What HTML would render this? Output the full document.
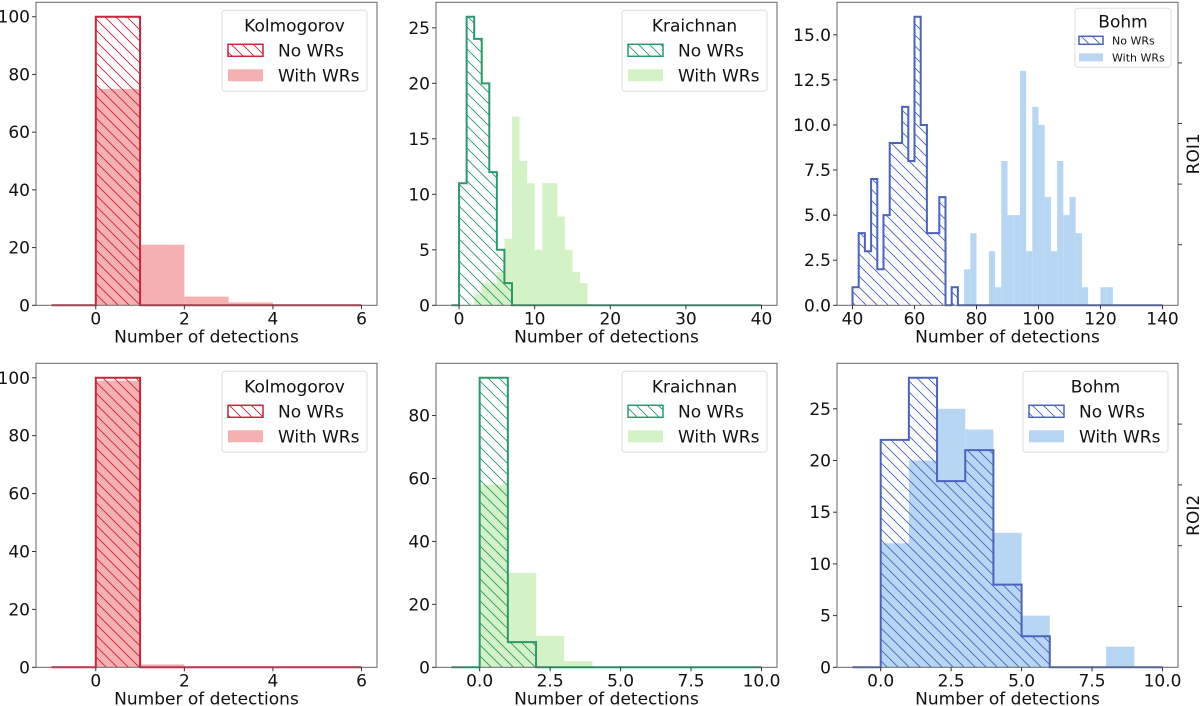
<!DOCTYPE html>
<html><head><meta charset="utf-8"><style>
html,body{margin:0;padding:0;background:#fff;}
svg{display:block;font-family:"DejaVu Sans","Liberation Sans",sans-serif;}
</style></head><body>
<svg id="fig" width="1200" height="706" viewBox="0 0 1200 706" xmlns="http://www.w3.org/2000/svg">
<defs>
<pattern id="hatch-kolmogorov" patternUnits="userSpaceOnUse" width="11" height="11"><path d="M-1,-1 L12,12 M-1,10 L1,12 M10,-1 L12,1" stroke="#c8243a" stroke-width="0.9"/></pattern>
<pattern id="hatch-kraichnan" patternUnits="userSpaceOnUse" width="11" height="11"><path d="M-1,-1 L12,12 M-1,10 L1,12 M10,-1 L12,1" stroke="#2b9a6a" stroke-width="0.9"/></pattern>
<pattern id="hatch-bohm" patternUnits="userSpaceOnUse" width="11" height="11"><path d="M-1,-1 L12,12 M-1,10 L1,12 M10,-1 L12,1" stroke="#4a63bd" stroke-width="0.9"/></pattern>
</defs>
</svg>
<script>
// ---- Data (bin counts, unit = detections) ----
const kolBinStart = -1, kolBinWidth = 1;
const kolRoi1NoWR   = [0,100,0,0,0,0,0];
const kolRoi1WithWR = [0,75,21,3,1,0,0];
const kolRoi2NoWR   = [0,100,0,0,0,0,0];
const kolRoi2WithWR = [0,99,1,0,0,0,0];

const kraRoi1BinStart = -1, kraRoi1BinWidth = 1;
const kraRoi1NoWR   = [0,11,26,24,20,12,5,2,0,0,0,0,0,0,0,0,0,0,0,0,0,0,0,0,0,0,0,0,0,0,0,0,0,0,0,0,0,0,0,0,0];
const kraRoi1WithWR = [0,0,0,1,2,2,3,6,17,13,11,5,11,11,8,5,3,2,0,0,0,0,0,0,0,0,0,0,0,0,0,0,0,0,0,0,0,0,0,0,0];

const bohRoi1BinStart = 40, bohRoi1BinWidth = 2;
const bohRoi1NoWR   = [1,4,3,7,2,5,9,9,11,8,16,10,4,4,6,0,1,0,0,0,0,0,0,0,0,0,0,0,0,0,0,0,0,0,0,0,0,0,0,0,0,0,0,0,0,0,0,0,0,0];
const bohRoi1WithWR = [0,0,0,0,0,0,0,0,0,0,0,0,0,0,0,0,0,0,2,4,0,0,3,1,8,5,5,13,3,11,10,6,3,8,5,6,4,1,0,0,1,1,0,0,0,0,0,0,0,0];

const roi2BinStart = -1, roi2BinWidth = 1;
const kraRoi2NoWR   = [0,92,8,0,0,0,0,0,0,0,0];
const kraRoi2WithWR = [0,58,30,10,2,0,0,0,0,0,0];
const bohRoi2NoWR   = [0,22,28,18,21,8,3,0,0,0,0];
const bohRoi2WithWR = [0,12,20,25,23,13,5,0,0,2,0];

const xTicksKol = [0,2,4,6];
const xTicksKra1 = [0,10,20,30,40];
const xTicksBoh1 = [40,60,80,100,120,140];
const xTicksRoi2 = [0,2.5,5,7.5,10];
const yTicksKol = [0,20,40,60,80,100];
const yTicksKra1 = [0,5,10,15,20,25];
const yTicksBoh1 = [0,2.5,5,7.5,10,12.5,15];
const yTicksKra2 = [0,20,40,60,80];
const yTicksBoh2 = [0,5,10,15,20,25];

const NS = "http://www.w3.org/2000/svg";
const svg = document.getElementById('fig');
function mk(tag, attrs, parent){ const e=document.createElementNS(NS,tag); for(const k in attrs) e.setAttribute(k,attrs[k]); (parent||svg).appendChild(e); return e; }

const colors = {
  kolmogorov:{edge:'#c8243a', fill:'#f5b1b1', title:'Kolmogorov'},
  kraichnan:{edge:'#2b9a6a', fill:'#d3f2c6', title:'Kraichnan'},
  bohm:{edge:'#4a63bd', fill:'#b7d6f3', title:'Bohm'}
};

function fmt(v, dec){ return dec ? v.toFixed(1) : String(v); }

function panel(p){
  const g = mk('g',{});
  
  
  const L=p.box[0], T=p.box[1], R=p.box[2], B=p.box[3];
  const sx = v => L + (v - p.xlim[0])/(p.xlim[1]-p.xlim[0])*(R-L);
  const sy = v => B - v/p.ymax*(B-T);
  const c = colors[p.model];
  // filled bars (With WRs)
  p.withWR.forEach((n,i)=>{
    if(n<=0) return;
    const x0=sx(p.binStart+i*p.binWidth), x1=sx(p.binStart+(i+1)*p.binWidth);
    const r = mk('rect',{x:x0,y:sy(n),width:x1-x0,height:B-sy(n),fill:c.fill},g);
    
    
  });
  // step hatch (No WRs)
  let d = `M${sx(p.binStart)},${sy(0)}`;
  p.noWR.forEach((n,i)=>{
    const x0=sx(p.binStart+i*p.binWidth), x1=sx(p.binStart+(i+1)*p.binWidth);
    d += ` L${x0},${sy(n)} L${x1},${sy(n)}`;
  });
  d += ` L${sx(p.binStart+p.noWR.length*p.binWidth)},${sy(0)}`;
  const st = mk('path',{d:d, fill:`url(#hatch-${p.model})`, stroke:c.edge, 'stroke-width':2, 'stroke-linejoin':'miter'},g);
  
  
  // spines
  const fr = mk('rect',{x:L,y:T,width:R-L,height:B-T,fill:'none',stroke:'#666','stroke-width':1},g);
  
  
  // ticks
  p.xticks.forEach(v=>{
    const x=sx(v);
    mk('line',{x1:x,y1:B,x2:x,y2:B+4,stroke:'#333','stroke-width':1},g);
    const t=mk('text',{x:x,y:B+19,'font-size':17,'text-anchor':'middle',fill:'#111'},g);
    t.textContent = fmt(v,p.xdec);
    
    
  });
  p.yticks.forEach(v=>{
    const y=sy(v);
    mk('line',{x1:L-4,y1:y,x2:L,y2:y,stroke:'#333','stroke-width':1},g);
    const t=mk('text',{x:L-6,y:y+6,'font-size':17,'text-anchor':'end',fill:'#111'},g);
    t.textContent = fmt(v,p.ydec);
    
    
  });
  const xl = mk('text',{x:(L+R)/2,y:B+37,'font-size':17,'text-anchor':'middle',fill:'#111'},g);
  xl.textContent='Number of detections';
  
  
  if(p.roi){
    for(let k=1;k<5;k++){ const y=B-(B-T)*k/5; mk('line',{x1:R,y1:y,x2:R+4,y2:y,stroke:'#333','stroke-width':1},g); }
    const cy=(T+B)/2, cx=R+21;
    const rt = mk('text',{x:cx,y:cy,'font-size':17,'text-anchor':'middle',fill:'#111',transform:`rotate(-90 ${cx} ${cy})`},g);
    rt.textContent=p.roi;
    
    
  }
  // legend
  const lg = mk('g',{},g);
  
  
  const lw=p.small?96:145, lh=p.small?59:81;
  const lx=R-10-lw+ (p.small?3:0), ly=T+(p.small?6:8);
  mk('rect',{x:lx,y:ly,width:lw,height:lh,rx:3,fill:'#fff','fill-opacity':0.85,stroke:'#ddd','stroke-width':1},lg);
  const tt=mk('text',{x:lx+lw/2,y:ly+(p.small?19:21),'font-size':17,'text-anchor':'middle',fill:'#111'},lg);
  tt.textContent=c.title;
  
  
  const fs=p.small?11:17, pw=p.small?24:35, ph=p.small?8:12, px=lx+(p.small?4:6), tx=lx+(p.small?37:56);
  const rows=p.small?[32,49]:[40,65];
  const e1=mk('rect',{x:px,y:ly+rows[0]-ph/2,width:pw,height:ph,fill:`url(#hatch-${p.model})`,stroke:c.edge,'stroke-width':1.5},lg);
  
  
  const t1=mk('text',{x:tx,y:ly+rows[0]+fs*0.36,'font-size':fs,fill:'#111'},lg); t1.textContent='No WRs';
  const e2=mk('rect',{x:px,y:ly+rows[1]-ph/2,width:pw,height:ph,fill:c.fill},lg);
  
  
  const t2=mk('text',{x:tx,y:ly+rows[1]+fs*0.36,'font-size':fs,fill:'#111'},lg); t2.textContent='With WRs';
}

const r1=[2.3,305.3], r2=[363.3,667.3];
const cols=[[36,377],[436,777],[837,1178]];
panel({name:'panel-kolmogorov-roi1',model:'kolmogorov',box:[cols[0][0],r1[0],cols[0][1],r1[1]],xlim:[-1.35,6.35],ymax:105,binStart:kolBinStart,binWidth:kolBinWidth,noWR:kolRoi1NoWR,withWR:kolRoi1WithWR,xticks:xTicksKol,yticks:yTicksKol});
panel({name:'panel-kraichnan-roi1',model:'kraichnan',box:[cols[1][0],r1[0],cols[1][1],r1[1]],xlim:[-3.05,42.05],ymax:27.3,binStart:kraRoi1BinStart,binWidth:kraRoi1BinWidth,noWR:kraRoi1NoWR,withWR:kraRoi1WithWR,xticks:xTicksKra1,yticks:yTicksKra1});
panel({name:'panel-bohm-roi1',model:'bohm',box:[cols[2][0],r1[0],cols[2][1],r1[1]],xlim:[35,145],ymax:16.8,binStart:bohRoi1BinStart,binWidth:bohRoi1BinWidth,noWR:bohRoi1NoWR,withWR:bohRoi1WithWR,xticks:xTicksBoh1,yticks:yTicksBoh1,ydec:true,roi:'ROI1',small:true});
panel({name:'panel-kolmogorov-roi2',model:'kolmogorov',box:[cols[0][0],r2[0],cols[0][1],r2[1]],xlim:[-1.35,6.35],ymax:105,binStart:kolBinStart,binWidth:kolBinWidth,noWR:kolRoi2NoWR,withWR:kolRoi2WithWR,xticks:xTicksKol,yticks:yTicksKol});
panel({name:'panel-kraichnan-roi2',model:'kraichnan',box:[cols[1][0],r2[0],cols[1][1],r2[1]],xlim:[-1.55,10.55],ymax:96.6,binStart:roi2BinStart,binWidth:roi2BinWidth,noWR:kraRoi2NoWR,withWR:kraRoi2WithWR,xticks:xTicksRoi2,yticks:yTicksKra2,xdec:true});
panel({name:'panel-bohm-roi2',model:'bohm',box:[cols[2][0],r2[0],cols[2][1],r2[1]],xlim:[-1.55,10.55],ymax:29.4,binStart:roi2BinStart,binWidth:roi2BinWidth,noWR:bohRoi2NoWR,withWR:bohRoi2WithWR,xticks:xTicksRoi2,yticks:yTicksBoh2,xdec:true,roi:'ROI2'});
</script>
</body></html>
